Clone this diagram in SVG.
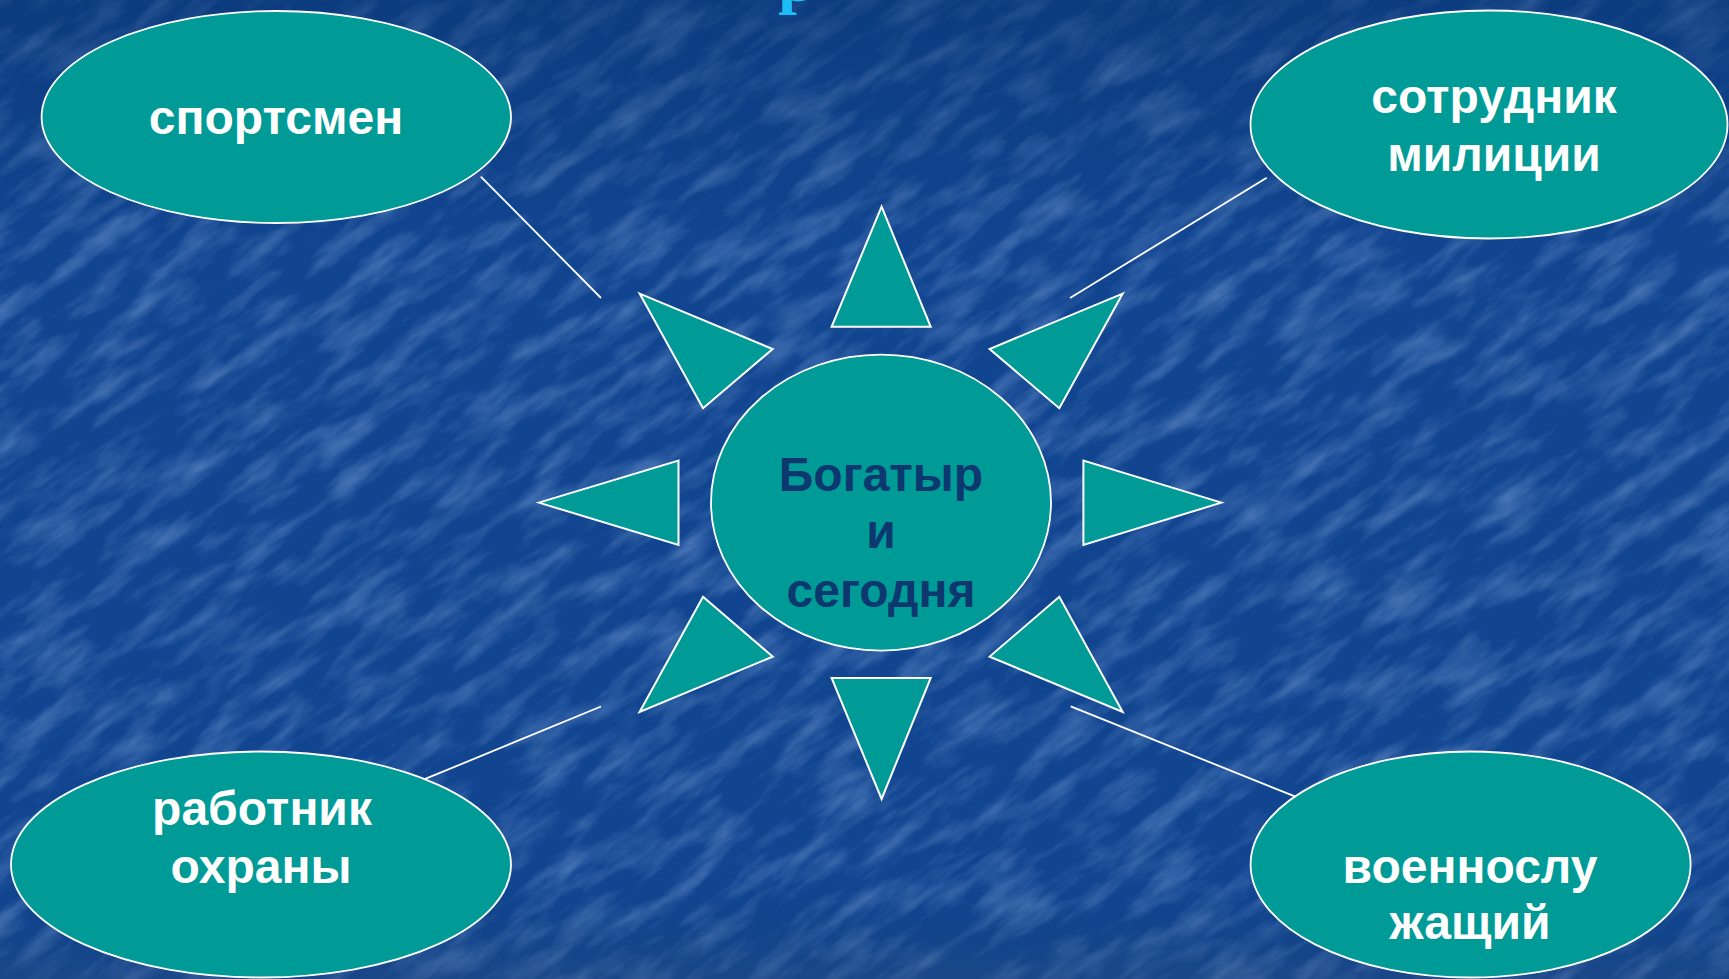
<svg xmlns="http://www.w3.org/2000/svg" width="1729" height="979" viewBox="0 0 1729 979">
  <defs>
    <style>
      .node { fill: #009a97; stroke: #ffffff; stroke-width: 1.8; }
      .ray { fill: #009a97; stroke: #ffffff; stroke-width: 2; stroke-linejoin: miter; }
      .conn { stroke: #ffffff; stroke-width: 1.8; fill: none; }
      .lbl { font-family: "Liberation Sans", Arial, sans-serif; font-weight: bold; font-size: 48px; fill: #ffffff; text-anchor: middle; }
      .ctr { font-family: "Liberation Sans", Arial, sans-serif; font-weight: bold; font-size: 48px; fill: #0c386f; text-anchor: middle; }
      .title { font-family: "Liberation Serif", "Times New Roman", serif; font-weight: bold; font-size: 68px; fill: #1cbdf5; }
    </style>
    <filter id="tex" x="0" y="0" width="100%" height="100%" filterUnits="objectBoundingBox">
      <feTurbulence type="fractalNoise" baseFrequency="0.014 0.05" numOctaves="4" seed="7"/>
      <feColorMatrix type="matrix" values="0 0 0 0 0.3  0 0 0 0 0.48  0 0 0 0 0.82  0 0 0 0.8 -0.33"/>
    </filter>
    <linearGradient id="shade" x1="0" y1="0" x2="0" y2="1">
      <stop offset="0" stop-color="#06306a" stop-opacity="0.45"/>
      <stop offset="0.25" stop-color="#06306a" stop-opacity="0"/>
      <stop offset="0.9" stop-color="#0a3a78" stop-opacity="0"/>
      <stop offset="1" stop-color="#2a4a78" stop-opacity="0.35"/>
    </linearGradient>
  </defs>

  <g id="background">
    <rect x="0" y="0" width="1729" height="979" fill="#114590"/>
    <rect x="-700" y="-900" width="3100" height="2800" filter="url(#tex)" transform="rotate(-35 864 490)"/>
    <rect x="0" y="0" width="1729" height="979" fill="url(#shade)"/>
  </g>

  <g id="title-fragment">
    <text class="title" x="778" y="0.5">р</text>
  </g>

  <g id="connectors">
    <line class="conn" x1="480.8" y1="176.6" x2="601" y2="298"/>
    <line class="conn" x1="1070" y1="298" x2="1266.7" y2="177.7"/>
    <line class="conn" x1="601" y1="706.5" x2="421" y2="780.7"/>
    <line class="conn" x1="1070.7" y1="706.3" x2="1295.5" y2="796.7"/>
  </g>

  <g id="rays">
    <polygon class="ray" points="881.6,206.6 831.6,326.8 930.7,326.8"/>
    <polygon class="ray" points="639.6,293.6 772.7,349 703,408.3"/>
    <polygon class="ray" points="1122.7,293.6 989.6,349 1059.3,408.3"/>
    <polygon class="ray" points="538.8,502.6 678.5,460.5 678.5,545"/>
    <polygon class="ray" points="1221.5,502.6 1083.4,460.5 1083.4,545"/>
    <polygon class="ray" points="703,596.8 772.7,656.6 639.6,712"/>
    <polygon class="ray" points="1059.3,596.8 989.6,656.6 1122.7,712"/>
    <polygon class="ray" points="831.6,678 930.7,678 881.6,799"/>
  </g>

  <g id="node-center">
    <ellipse class="node" cx="881" cy="502.6" rx="170" ry="148"/>
    <text class="ctr" x="881" y="490.7">Богатыр</text>
    <text class="ctr" x="881" y="548.3">и</text>
    <text class="ctr" x="881" y="606.7">сегодня</text>
  </g>

  <g id="node-sportsman">
    <ellipse class="node" cx="276.3" cy="117" rx="234.7" ry="106"/>
    <text class="lbl" x="276" y="134">спортсмен</text>
  </g>

  <g id="node-police">
    <ellipse class="node" cx="1489" cy="124.5" rx="238.5" ry="114"/>
    <text class="lbl" x="1494" y="112.7">сотрудник</text>
    <text class="lbl" x="1494" y="170.7">милиции</text>
  </g>

  <g id="node-guard">
    <ellipse class="node" cx="261" cy="864.5" rx="250" ry="113"/>
    <text class="lbl" x="262" y="825">работник</text>
    <text class="lbl" x="261" y="883">охраны</text>
  </g>

  <g id="node-military">
    <ellipse class="node" cx="1470.6" cy="864.5" rx="220" ry="113"/>
    <text class="lbl" x="1470" y="882.7">военнослу</text>
    <text class="lbl" x="1470" y="939.3">жащий</text>
  </g>
</svg>
